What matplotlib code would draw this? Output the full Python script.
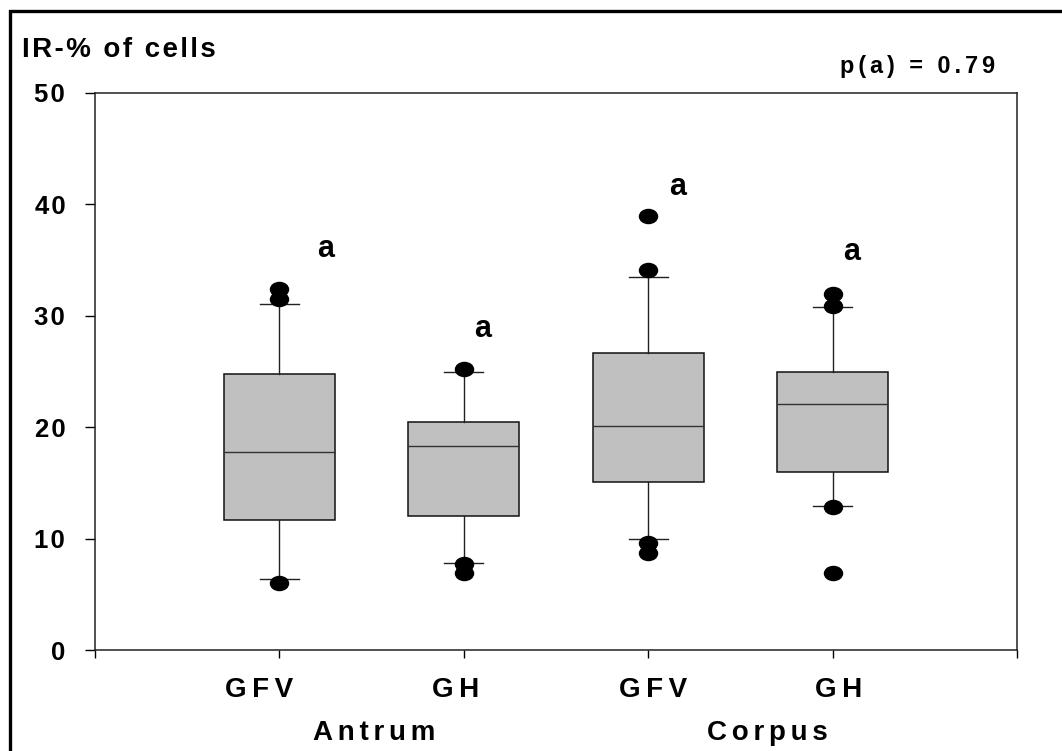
import numpy as np
import matplotlib
matplotlib.use("Agg")
import matplotlib.pyplot as plt
from matplotlib.patches import Rectangle
from matplotlib.path import Path
from matplotlib.transforms import Affine2D

plt.rcParams["font.family"] = ["Liberation Sans", "DejaVu Sans"]
plt.rcParams["font.weight"] = "bold"

# per-group box statistics, IR-% of cells
groups = ["GFV", "GH", "GFV", "GH"]
regions = ["Antrum", "Corpus"]
medians = [17.8, 18.3, 20.1, 22.1]
q1 = [11.7, 12.0, 15.1, 16.0]
q3 = [24.75, 20.5, 26.7, 25.0]
whislo = [6.35, 7.8, 10.0, 12.9]
whishi = [31.1, 25.0, 33.5, 30.8]
fliers = [
    [32.4, 31.5, 6.0],
    [25.2, 7.7, 6.9],
    [39.0, 34.1, 9.6, 8.7],
    [32.0, 30.9, 12.8, 6.9],
]
letters = ["a", "a", "a", "a"]
letter_y = [36.0, 28.8, 41.6, 35.7]
p_text = "p(a) = 0.79"

# where the texts sit along x (data units)
letter_x = [1.253, 2.10, 3.157, 4.105]
label_x = [0.892, 1.958, 3.026, 4.035]
region_x = [1.513, 3.644]

THIN = "\u2009"
HAIR = "\u200a"


def spaced(s, sep=THIN):
    return sep.join(s)


# slightly flattened dot for the outliers
circle = Path.unit_circle()
dot = circle.transformed(Affine2D().scale(1.0, 0.78))

stats = []
for i in range(len(groups)):
    stats.append(dict(med=medians[i], q1=q1[i], q3=q3[i],
                      whislo=whislo[i], whishi=whishi[i], fliers=fliers[i]))

fig = plt.figure(figsize=(10.62, 7.51), dpi=100)
ax = fig.add_axes([95 / 1062, 101 / 751, 922 / 1062, 557 / 751])

positions = np.arange(1, len(groups) + 1)
ax.bxp(stats, positions=positions, widths=0.6, capwidths=0.21,
       patch_artist=True, showfliers=True,
       boxprops=dict(facecolor="#c0c0c0", edgecolor="#111111", linewidth=1.1),
       medianprops=dict(color="#333333", linewidth=1.0),
       whiskerprops=dict(color="#222222", linewidth=1.0),
       capprops=dict(color="#222222", linewidth=1.0),
       flierprops=dict(marker=dot, markersize=13, markerfacecolor="black",
                       markeredgecolor="black", linestyle="none"))

ax.set_xlim(0, 5)
ax.set_ylim(0, 50)
ax.set_xticks(np.arange(0, 6))
ax.set_xticklabels([])
yt = [0, 10, 20, 30, 40, 50]
ax.set_yticks(yt)
ax.set_yticklabels([spaced(str(v), HAIR) for v in yt])
ax.tick_params(axis="x", direction="out", length=6, width=1.0)
ax.tick_params(axis="y", direction="out", length=7, width=1.0, pad=14.5,
               labelsize=18.5)
for lab in ax.get_yticklabels():
    lab.set_fontweight("bold")
for sp in ax.spines.values():
    sp.set_linewidth(1.1)
    sp.set_color("#222222")

# significance letters above each box
for x, y, t in zip(letter_x, letter_y, letters):
    ax.text(x, y, t, ha="center", va="center", fontsize=22,
            fontweight="bold")

# group names and region names under the axis
trans = ax.get_xaxis_transform()
for x, g in zip(label_x, groups):
    ax.text(x, -0.071, spaced(g), transform=trans, ha="center",
            va="center", fontsize=20, fontweight="bold")
for x, r in zip(region_x, regions):
    ax.text(x, -0.149, spaced(r, HAIR * 2), transform=trans, ha="center",
            va="center", fontsize=20, fontweight="bold")

fig.text(22 / 1062, 1 - 50 / 751, spaced("IR-% of cells", HAIR),
         ha="left", va="center", fontsize=20, fontweight="bold")
fig.text(995 / 1062, 1 - 66 / 751, spaced(p_text, HAIR * 2), ha="right",
         va="center", fontsize=16.8, fontweight="bold")

# outer frame
fig.add_artist(Rectangle((10 / 1062, -0.2), 2, 1.2 - 11 / 751, fill=False,
                         linewidth=2.4, edgecolor="black",
                         transform=fig.transFigure))

fig.savefig("out.png", dpi=100)
